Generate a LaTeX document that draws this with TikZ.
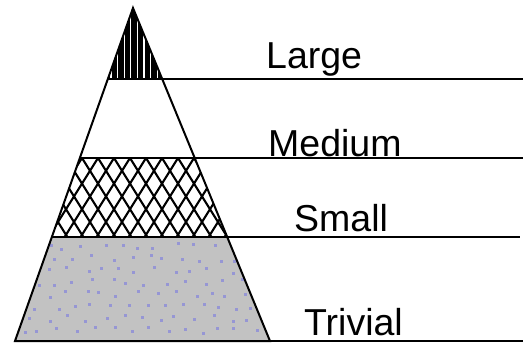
\documentclass[tikz,border=0pt]{standalone}
\usepackage{fontspec}
\setmainfont{Liberation Sans}
\definecolor{trivgray}{RGB}{194,194,194}
\definecolor{dotblue}{RGB}{150,150,212}
\tikzset{
  edge/.style={line width=2pt, black},
  levelline/.style={line width=2pt, black},
  lbl/.style={anchor=base west, inner sep=0pt, font=\fontsize{37.5}{42}\selectfont},
}
\begin{document}
\begin{tikzpicture}[x=1pt,y=-1pt]
\useasboundingbox (0,0) rectangle (523,343);
% pyramid key points
\coordinate (A) at (133,8);
\coordinate (L1) at (107.8,79);  \coordinate (R1) at (162.2,79);
\coordinate (L2) at (79.8,158);  \coordinate (R2) at (194.7,158);
\coordinate (L3) at (51.8,237);  \coordinate (R3) at (227.2,237);
\coordinate (L4) at (15,341);    \coordinate (R4) at (270,341);
\coordinate (E1) at (523,79);
\coordinate (E2) at (523,158);
\coordinate (E3) at (520,237);
\coordinate (E4) at (523,341);
% Large: vertical stripes
\begin{scope}
  \clip (A) -- (L1) -- (R1) -- cycle;
  \fill[black] (90,0) rectangle (180,80);
  \foreach \x in {111,117.6,...,160} \draw[white, line width=1.1pt] (\x,0) -- (\x,80);
\end{scope}
% Small: diamond hatch
\begin{scope}
  \clip (L2) -- (R2) -- (R3) -- (L3) -- cycle;
  \foreach \x in {-30,-14,...,290} {
    \draw[black, line width=2.1pt] (\x,158) -- ++(50,80);
    \draw[black, line width=2.1pt] (\x,158) -- ++(-50,80);
  }
\end{scope}
% Trivial: gray with dots
\begin{scope}
  \clip (L3) -- (R3) -- (R4) -- (L4) -- cycle;
  \fill[trivgray] (0,230) rectangle (280,345);
  \pgfmathsetseed{5}
  \foreach \r [count=\k] in {245,257,...,330} {
    \pgfmathsetmacro\off{mod(\k,2)*9}
    \foreach \c in {20,38,...,270} {
      \pgfmathsetmacro\rx{\c+\off+random(-5,5)}
      \pgfmathsetmacro\ry{\r+random(-3,3)}
      \fill[dotblue] (\rx,\ry) rectangle ++(2.6,2.6);
    }
  }
\end{scope}
% outline
\draw[edge] (L4) -- (A) -- (R4) -- cycle;
\draw[levelline] (L1) -- (R1) -- (E1);
\draw[levelline] (L2) -- (R2) -- (E2);
\draw[levelline] (L3) -- (R3) -- (E3);
\draw[levelline] (R4) -- (E4);
% labels
\node[lbl] (large) at (266,68) {Large};
\node[lbl] (medium) at (268,156) {Medium};
\node[lbl] (small) at (294,231) {Small};
\node[lbl] (trivial) at (304,335) {Trivial};
\end{tikzpicture}
\end{document}
